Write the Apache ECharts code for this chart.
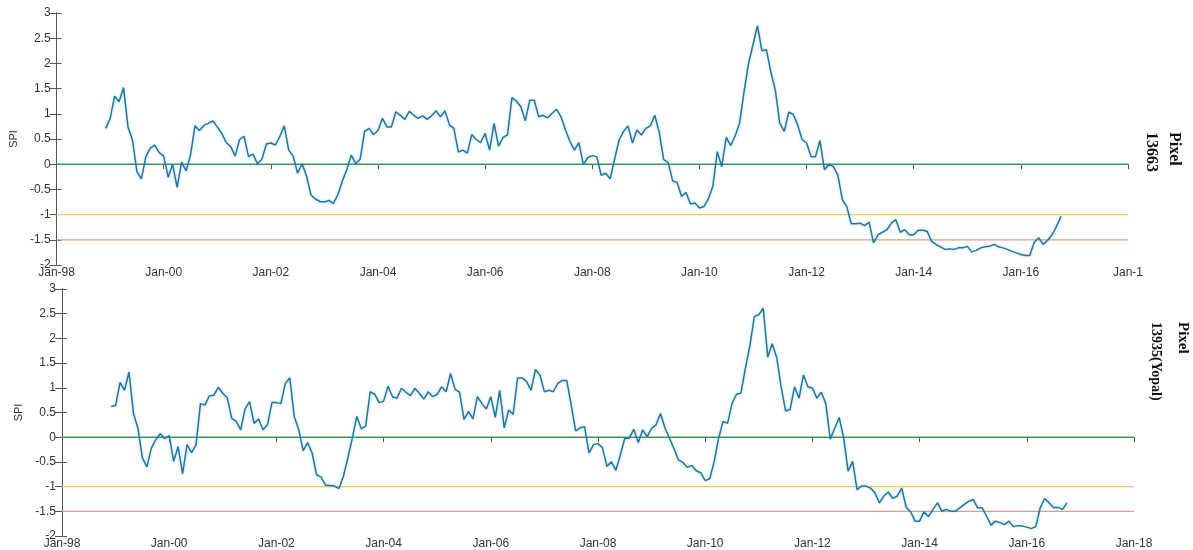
<!DOCTYPE html>
<html>
<head>
<meta charset="utf-8">
<script src="https://cdn.jsdelivr.net/npm/echarts@6/dist/echarts.min.js"></script>
<style>
    html, body { margin: 0; padding: 0; background: #fff; }
    #chart { width: 1193px; height: 550px; }
</style>
</head>
<body>
<div id="chart"></div>
<script>
// months counted from Jan-98; both series start Dec-98
const startMonth = 11;

// SPI, Pixel 13663
const spiTop = [
    0.71, 0.91, 1.35, 1.24, 1.52, 0.74, 0.48, -0.15, -0.29, 0.15,
    0.32, 0.38, 0.23, 0.16, -0.26, 0, -0.46, 0.04, -0.13, 0.18,
    0.76, 0.67, 0.77, 0.81, 0.86, 0.74, 0.61, 0.43, 0.35, 0.16,
    0.49, 0.55, 0.15, 0.2, 0.01, 0.1, 0.4, 0.42, 0.38, 0.55,
    0.76, 0.28, 0.16, -0.18, 0.01, -0.24, -0.61, -0.69, -0.74, -0.75,
    -0.72, -0.78, -0.61, -0.34, -0.11, 0.18, 0.01, 0.1, 0.65, 0.71,
    0.59, 0.67, 0.91, 0.74, 0.74, 1.04, 0.97,
    0.89, 1.05, 0.97, 0.91, 0.96, 0.89, 0.96, 1.06, 0.94, 1.06,
    0.78, 0.71, 0.24, 0.28, 0.22, 0.59, 0.49, 0.43, 0.61, 0.28,
    0.81, 0.36, 0.53, 0.58, 1.32, 1.25, 1.14, 0.86, 1.27, 1.27,
    0.94, 0.97, 0.92, 1.01, 1.09, 0.94, 0.68, 0.45, 0.28, 0.43,
    -0.01, 0.13, 0.17, 0.15, -0.22, -0.18, -0.29, 0.10, 0.48, 0.65,
    0.76, 0.42, 0.68, 0.58, 0.71, 0.76, 0.97, 0.63, 0.09, 0.03,
    -0.33, -0.36, -0.64, -0.56, -0.79, -0.77, -0.87, -0.84, -0.69, -0.44,
    0.25, -0.05, 0.53, 0.37, 0.56, 0.82, 1.44, 2.00, 2.37, 2.75,
    2.25, 2.27, 1.83, 1.47, 0.81, 0.65, 1.03, 0.99, 0.78,
    0.49, 0.42, 0.15, 0.15, 0.47, -0.11, 0, -0.05, -0.21, -0.70,
    -0.84, -1.18, -1.18, -1.17, -1.22, -1.15, -1.56, -1.40, -1.35, -1.30,
    -1.17, -1.10, -1.35, -1.30, -1.40, -1.40, -1.31, -1.31, -1.33, -1.53,
    -1.59, -1.64, -1.69, -1.68, -1.69, -1.66, -1.66, -1.63, -1.74, -1.71,
    -1.66, -1.64, -1.63, -1.59, -1.64, -1.66, -1.69, -1.73, -1.76, -1.79,
    -1.81, -1.81, -1.55, -1.46, -1.59, -1.51, -1.40, -1.23, -1.03
];

// SPI, Pixel 13935 (Yopal)
const spiBottom = [
    0.62, 0.64, 1.11, 0.95, 1.32, 0.48, 0.18, -0.42, -0.60, -0.22,
    -0.05, 0.07, -0.03, 0.03, -0.49, -0.19, -0.74, -0.15, -0.31, -0.15,
    0.68, 0.65, 0.84, 0.85, 1.01, 0.89, 0.80, 0.38, 0.32, 0.15,
    0.58, 0.72, 0.28, 0.37, 0.15, 0.25, 0.70, 0.70, 0.68, 1.09,
    1.20, 0.42, 0.15, -0.27, -0.11, -0.32, -0.76, -0.81, -0.97, -0.98,
    -0.99, -1.04, -0.79, -0.42, -0.02, 0.42, 0.17, 0.23, 0.92, 0.87,
    0.70, 0.73, 1.03, 0.82, 0.79, 0.99,
    0.91, 0.84, 0.99, 0.89, 0.77, 0.92, 0.82, 0.87, 1.02, 0.92,
    1.29, 0.97, 0.91, 0.36, 0.52, 0.37, 0.82, 0.68, 0.57, 0.82,
    0.40, 0.95, 0.19, 0.55, 0.46, 1.20, 1.20, 1.13, 0.95, 1.37,
    1.26, 0.92, 0.95, 0.92, 1.09, 1.15, 1.15, 0.65, 0.13, 0.19,
    0.21, -0.32, -0.15, -0.13, -0.21, -0.59, -0.50, -0.67, -0.36, -0.02,
    -0.02, 0.16, -0.11, 0.15, 0.01, 0.18, 0.25, 0.48, 0.18, -0.02,
    -0.23, -0.46, -0.51, -0.61, -0.57, -0.68, -0.72, -0.88, -0.84, -0.50,
    -0.02, 0.32, 0.28, 0.68, 0.87, 0.89, 1.40, 1.85, 2.44, 2.48,
    2.61, 1.62, 1.89, 1.62, 1.02, 0.53, 0.56, 1.02, 0.79,
    1.26, 1.02, 0.99, 0.79, 0.91, 0.68, -0.04, 0.18, 0.40, -0.02,
    -0.69, -0.49, -1.06, -0.99, -0.99, -1.03, -1.13, -1.33, -1.19, -1.11,
    -1.24, -1.19, -1.03, -1.42, -1.51, -1.70, -1.70, -1.51, -1.61, -1.46,
    -1.33, -1.50, -1.46, -1.50, -1.50, -1.43, -1.36, -1.30, -1.26, -1.43,
    -1.43, -1.60, -1.78, -1.70, -1.73, -1.77, -1.70, -1.81, -1.79, -1.80,
    -1.82, -1.85, -1.81, -1.43, -1.24, -1.33, -1.43, -1.42, -1.46, -1.33
];

const xTickLabelsTop = ['Jan-98', 'Jan-00', 'Jan-02', 'Jan-04', 'Jan-06', 'Jan-08', 'Jan-10', 'Jan-12', 'Jan-14', 'Jan-16', 'Jan-1'];
const xTickLabelsBottom = ['Jan-98', 'Jan-00', 'Jan-02', 'Jan-04', 'Jan-06', 'Jan-08', 'Jan-10', 'Jan-12', 'Jan-14', 'Jan-16', 'Jan-18'];
const thresholds = [0, -1, -1.5];
const panelNames = [['Pixel', '13663'], ['Pixel', '13935(Yopal)']];

const thresholdColors = ['#3aa35c', '#f6c27a', '#d9a08c'];
const axisColor = '#555';
const labelFont = { color: '#333', fontSize: 12, fontFamily: 'Liberation Sans' };

function xAxes(gridIndex, labels) {
    return [
        {
            gridIndex: gridIndex, type: 'value', min: 0, max: 240, interval: 24,
            axisLine: { lineStyle: { color: axisColor } },
            axisTick: { show: false },
            splitLine: { show: false },
            axisLabel: Object.assign({ margin: 2, formatter: v => labels[Math.round(v / 24)] }, labelFont)
        },
        {
            gridIndex: gridIndex, type: 'value', position: 'top', min: 0, max: 240, interval: 24,
            axisLine: { lineStyle: { color: axisColor } },
            axisTick: { inside: true, length: 5, lineStyle: { color: axisColor } },
            splitLine: { show: false },
            axisLabel: { show: false }
        }
    ];
}

function yAxes(gridIndex) {
    return [
        {
            gridIndex: gridIndex, type: 'value', min: -2, max: 3, interval: 0.5,
            name: 'SPI', nameLocation: 'middle', nameGap: 36, nameRotate: 90,
            nameTextStyle: Object.assign({}, labelFont, { fontSize: 11 }),
            axisLine: { show: true, lineStyle: { color: axisColor } },
            axisTick: { show: true, inside: true, length: 5, lineStyle: { color: axisColor } },
            splitLine: { show: false },
            axisLabel: Object.assign({ margin: 6 }, labelFont)
        },
        {
            gridIndex: gridIndex, type: 'value', position: 'right', min: -2, max: 3, interval: 0.5,
            axisLine: { show: true, lineStyle: { color: axisColor } },
            axisTick: { show: true, inside: true, length: 7, lineStyle: { color: axisColor } },
            splitLine: { show: false },
            axisLabel: { show: false }
        }
    ];
}

function panelSeries(gridIndex, values) {
    let list = thresholds.map((t, i) => ({
        type: 'line',
        xAxisIndex: gridIndex * 2,
        yAxisIndex: gridIndex * 2,
        data: [[0, t], [240, t]],
        symbol: 'none',
        silent: true,
        z: 1,
        lineStyle: { color: thresholdColors[i], width: 1.2 }
    }));
    list.push({
        type: 'line',
        xAxisIndex: gridIndex * 2,
        yAxisIndex: gridIndex * 2,
        data: values.map((v, i) => [startMonth + i, v]),
        symbol: 'none',
        z: 3,
        lineStyle: { color: '#23769f', width: 1.5, shadowColor: 'rgba(80,170,220,0.45)', shadowBlur: 3 }
    });
    return list;
}

function sideLabel(x, y, text, size) {
    return {
        type: 'text', x: x, y: y, rotation: -Math.PI / 2,
        style: {
            text: text, fill: '#111',
            font: 'bold ' + size + 'px "Liberation Serif"',
            textAlign: 'left', textVerticalAlign: 'middle'
        }
    };
}

let chart = echarts.init(document.getElementById('chart'));
const option = {
    animation: false,
    grid: [
        { left: 56, top: 13, width: 1072, height: 252 },
        { left: 62, top: 289, width: 1072, height: 248 }
    ],
    xAxis: xAxes(0, xTickLabelsTop).concat(xAxes(1, xTickLabelsBottom)),
    yAxis: yAxes(0).concat(yAxes(1)),
    series: panelSeries(0, spiTop).concat(panelSeries(1, spiBottom)),
    graphic: [
        sideLabel(1174, 132, panelNames[0][0], 16),
        sideLabel(1151, 132, panelNames[0][1], 16),
        sideLabel(1183, 322, panelNames[1][0], 15),
        sideLabel(1156, 322, panelNames[1][1], 14)
    ]
};
chart.setOption(option);
</script>
</body>
</html>
